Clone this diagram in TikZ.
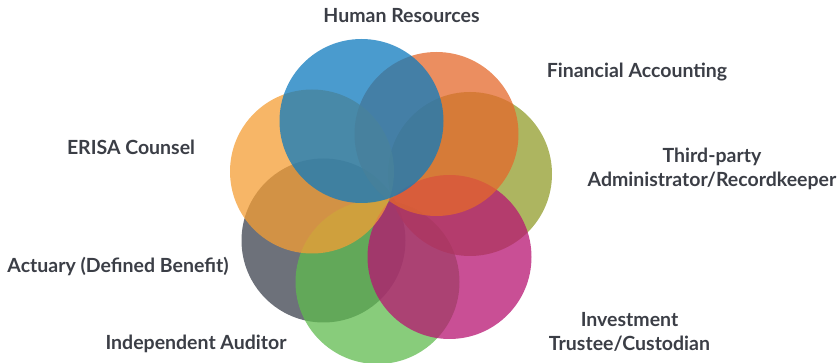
\documentclass[tikz,border=0pt]{standalone}
\usepackage{fontspec}
\setmainfont{Lato}
\usepackage{tikz}
\definecolor{hrblue}{RGB}{14,122,190}
\definecolor{fincolor}{RGB}{228,104,43}
\definecolor{tpacolor}{RGB}{146,156,43}
\definecolor{invcolor}{RGB}{183,20,114}
\definecolor{audcolor}{RGB}{96,187,79}
\definecolor{actcolor}{RGB}{60,66,78}
\definecolor{erisacolor}{RGB}{244,158,52}
\definecolor{labelgray}{RGB}{59,62,70}
\tikzstyle{petal} = [circle, draw=none, inner sep=0pt, minimum size=164pt, fill opacity=0.75]
\tikzstyle{lbl} = [text=labelgray, font=\fontsize{19.5}{24}\selectfont\bfseries, align=center, inner sep=0pt]

\begin{document}
\begin{tikzpicture}[x=1pt,y=-1pt]

            \useasboundingbox (0,0) rectangle (839,363);

            %% circles, back to front

            \node (act) [petal, fill=actcolor] at (323.5,240.5) {};
            \node (aud) [petal, fill=audcolor] at (377.5,282) {};
            \node (tpa) [petal, fill=tpacolor] at (470,174) {};
            \node (inv) [petal, fill=invcolor] at (449.5,257) {};
            \node (fin) [petal, fill=fincolor] at (436.5,134) {};
            \node (erisa) [petal, fill=erisacolor] at (312,171.5) {};
            \node (hr) [petal, fill=hrblue] at (361.5,121) {};

            %% labels

            \node (hrlbl) [lbl] at (401.5,16) {Human Resources};
            \node (finlbl) [lbl] at (637,72) {Financial Accounting};
            \node (tpalbl) [lbl] at (712,169) {Third-party\\Administrator/Recordkeeper};
            \node (invlbl) [lbl] at (629.5,332) {Investment\\Trustee/Custodian};
            \node (audlbl) [lbl] at (196,344) {Independent Auditor};
            \node (actlbl) [lbl] at (118,266) {Actuary (Defined Benefit)};
            \node (erisalbl) [lbl] at (131,147) {ERISA Counsel};

        \end{tikzpicture}
\end{document}
